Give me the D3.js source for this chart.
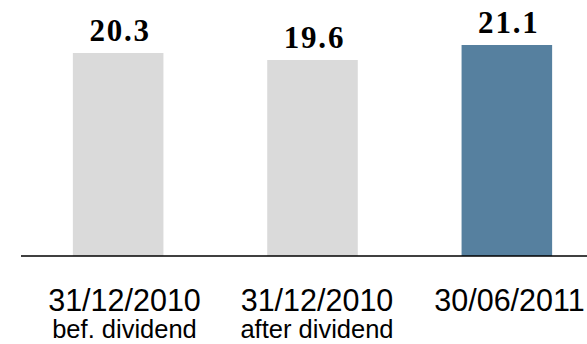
<!DOCTYPE html>
<html><head><meta charset="utf-8">
<script src="https://cdn.jsdelivr.net/npm/d3@7"></script>
<style>html,body{margin:0;padding:0;background:#fff;}svg{display:block;}</style>
</head><body>
<script>
const categories = ["31/12/2010|bef. dividend", "31/12/2010|after dividend", "30/06/2011|"];
const dateLabels = ["31/12/2010", "31/12/2010", "30/06/2011"];
const subLabels = ["bef. dividend", "after dividend", ""];
const values = [20.3, 19.6, 21.1];
const valueLabels = ["20.3", "19.6", "21.1"];
const colors = ["#dadada", "#dadada", "#56809f"];

const W = 587, H = 344;
const svg = d3.select("body").append("svg").attr("width", W).attr("height", H);

const x = d3.scaleBand().domain(categories).range([34, 591]).paddingInner(0.534).paddingOuter(0.2);
const y = d3.scaleLinear().domain([0, 25.6]).range([256, 0]);
const xl = d3.scalePoint().domain(categories).range([124.5, 509.5]);

svg.selectAll("rect.bar").data(values).join("rect")
  .attr("class", "bar")
  .attr("x", (d, i) => x(categories[i]))
  .attr("width", x.bandwidth())
  .attr("y", d => y(d))
  .attr("height", d => y(0) - y(d))
  .attr("fill", (d, i) => colors[i]);

svg.append("line").attr("x1", 21).attr("x2", W).attr("y1", y(0)).attr("y2", y(0))
  .attr("stroke", "#000").attr("stroke-width", 1.3);

svg.selectAll("text.val").data(values).join("text")
  .attr("class", "val")
  .attr("x", (d, i) => x(categories[i]) + x.bandwidth() / 2 + 2)
  .attr("y", d => y(d) - 12)
  .attr("text-anchor", "middle")
  .attr("font-family", "'Liberation Serif', 'Times New Roman', serif")
  .attr("font-weight", "bold")
  .attr("font-size", 31)
  .attr("letter-spacing", 1.8)
  .attr("fill", "#000")
  .text((d, i) => valueLabels[i]);

const g = svg.selectAll("g.cat").data(categories).join("g").attr("class", "cat");
g.append("text")
  .attr("x", d => xl(d)).attr("y", 311)
  .attr("text-anchor", "middle")
  .attr("font-family", "'Liberation Sans', Arial, sans-serif")
  .attr("font-size", 30.5).attr("fill", "#000")
  .text((d, i) => dateLabels[i]);
g.append("text")
  .attr("x", d => xl(d)).attr("y", 338)
  .attr("text-anchor", "middle")
  .attr("font-family", "'Liberation Sans', Arial, sans-serif")
  .attr("font-size", 25.5).attr("fill", "#000")
  .text((d, i) => subLabels[i]);
</script>
</body></html>
